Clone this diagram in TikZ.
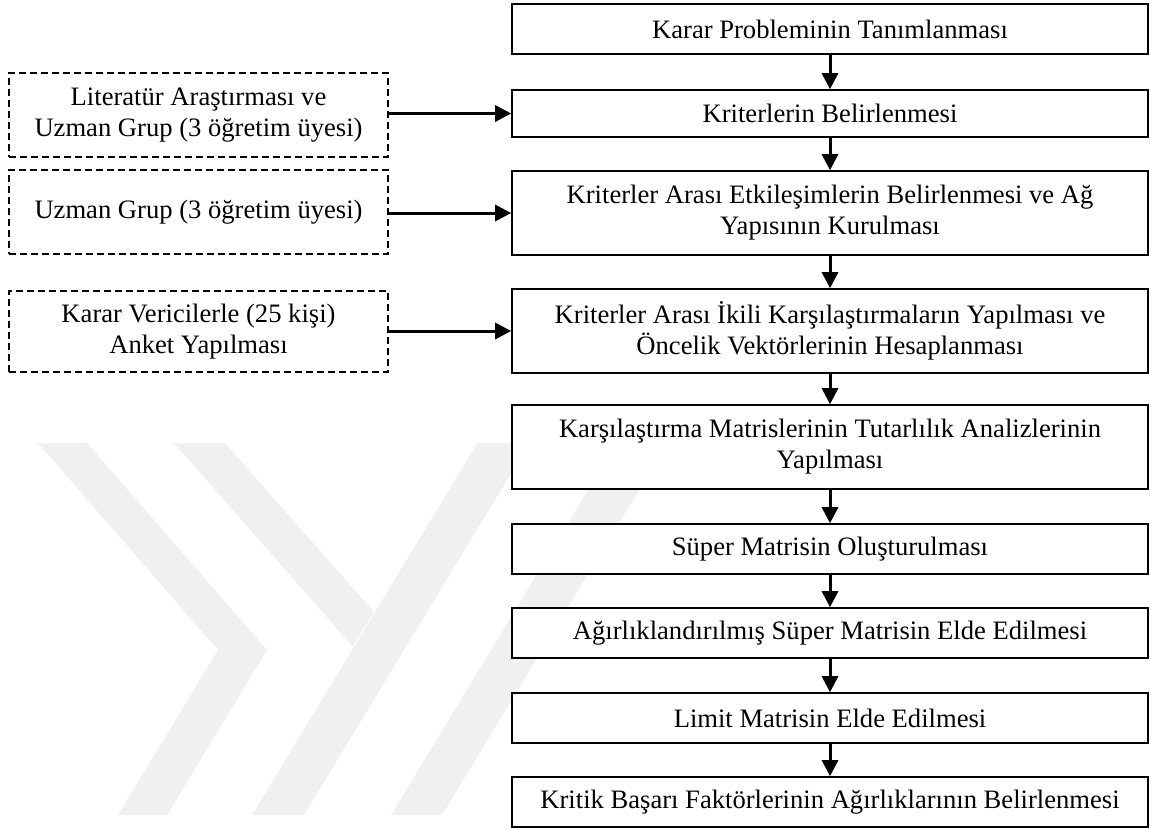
\documentclass[tikz,border=0pt]{standalone}
\usepackage{fontspec}
\setmainfont{Liberation Serif}
\usetikzlibrary{arrows.meta}
\definecolor{wmgray}{RGB}{240,240,240}
\begin{document}
\begin{tikzpicture}[x=1pt,y=-1pt,
  stepbox/.style={draw, line width=1.6pt, fill=white, minimum width=636pt,
    text width=620pt, align=flush center, inner sep=0pt},
  srcbox/.style={draw, dash pattern=on 7pt off 4pt, line width=1.6pt, fill=white,
    minimum width=379pt, text width=370pt, align=flush center, inner sep=0pt},
  arr/.style={line width=3pt, -{Triangle[length=16pt,width=16pt]}},
  font=\fontsize{26.6}{31}\selectfont]
\useasboundingbox (0,0) rectangle (1150,828);

% faint background emblem
\fill[wmgray] (38,443) -- (87,443) -- (267,650) -- (167,815) -- (118,815) -- (218,650) -- cycle;
\fill[wmgray] (174,443) -- (225,443) -- (373.8,611.9) -- (352.8,646.6) -- cycle;
\fill[wmgray] (252,815) -- (304,815) -- (529.5,443) -- (477.5,443) -- cycle;
\fill[wmgray] (391,815) -- (442,815) -- (667.5,443) -- (616.5,443) -- cycle;

% main sequence
\node[stepbox, minimum height=50pt] (b1) at (830,29) {Karar Probleminin Tanımlanması};
\node[stepbox, minimum height=47pt] (b2) at (830,113.5) {Kriterlerin Belirlenmesi};
\node[stepbox, minimum height=84pt] (b3) at (830,213) {Kriterler Arası Etkileşimlerin Belirlenmesi ve Ağ\\Yapısının Kurulması};
\node[stepbox, minimum height=84pt] (b4) at (830,331) {Kriterler Arası İkili Karşılaştırmaların Yapılması ve\\Öncelik Vektörlerinin Hesaplanması};
\node[stepbox, minimum height=84pt] (b5) at (830,447) {Karşılaştırma Matrislerinin Tutarlılık Analizlerinin\\Yapılması};
\node[stepbox, minimum height=50pt] (b6) at (830,549) {Süper Matrisin Oluşturulması};
\node[stepbox, minimum height=50pt] (b7) at (830,633) {Ağırlıklandırılmış Süper Matrisin Elde Edilmesi};
\node[stepbox, minimum height=50pt] (b8) at (830,718) {Limit Matrisin Elde Edilmesi};
\node[stepbox, minimum height=50pt] (b9) at (830,802) {Kritik Başarı Faktörlerinin Ağırlıklarının Belirlenmesi};

% inputs
\node[srcbox, minimum height=84pt] (l1) at (198.5,115) {Literatür Araştırması ve\\Uzman Grup (3 öğretim üyesi)};
\node[srcbox, minimum height=84pt] (l2) at (198.5,212) {Uzman Grup (3 öğretim üyesi)};
\node[srcbox, minimum height=81pt] (l3) at (198.5,331.5) {Karar Vericilerle (25 kişi)\\Anket Yapılması};

% connectors
\foreach \a/\b in {b1/b2,b2/b3,b3/b4,b4/b5,b5/b6,b6/b7,b7/b8,b8/b9}
  \draw[arr] (\a) -- (\b);
\draw[arr] (l1.east |- b2.west) -- (b2.west);
\draw[arr] (l2.east |- b3.west) -- (b3.west);
\draw[arr] (l3.east |- b4.west) -- (b4.west);
\end{tikzpicture}
\end{document}
